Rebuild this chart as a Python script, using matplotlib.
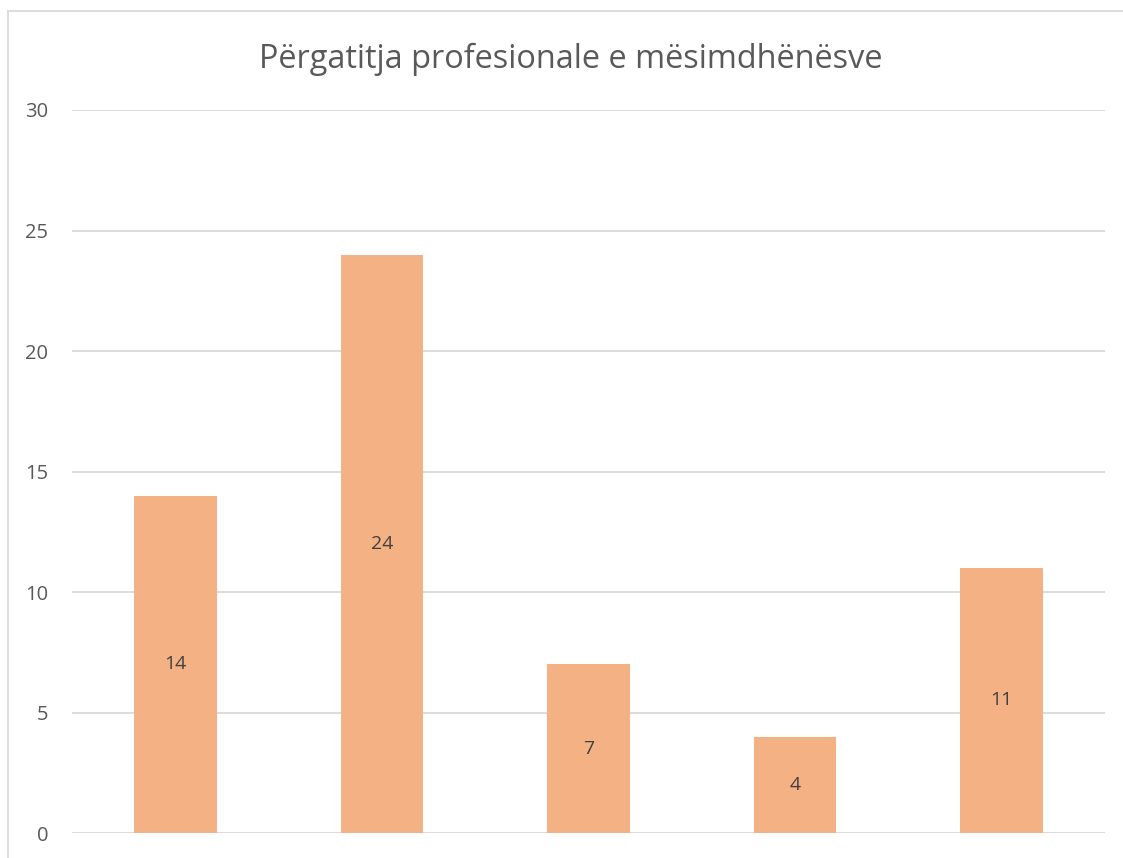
import matplotlib.pyplot as plt
from matplotlib.lines import Line2D

# data
categories = ["1", "2", "3", "4", "5"]
values = [14, 24, 7, 4, 11]
title = "Përgatitja profesionale e mësimdhënësve"

plt.rcParams['font.family'] = ['Open Sans', 'DejaVu Sans']

fig = plt.figure(figsize=(11.23, 8.58), dpi=100)
ax = fig.add_axes([0.0641, 0.0291, 0.9199, 0.8427])

x = range(len(categories))
bars = ax.bar(x, values, width=0.4, color='#F4B183', zorder=3)

ax.set_xlim(-0.5, len(categories) - 0.5)
ax.set_ylim(0, 30)
ax.set_yticks(range(0, 31, 5))
ax.set_xticks([])
ax.yaxis.grid(True, color='#D9D9D9', linewidth=1.3, zorder=0)
for s in ax.spines.values():
    s.set_visible(False)
ax.tick_params(axis='y', length=0, pad=17, labelsize=14.5, labelcolor='#595959')

# value labels in the middle of each bar
for b, v in zip(bars, values):
    ax.text(b.get_x() + b.get_width() / 2, v / 2, str(v), ha='center', va='center',
            fontsize=14, color='#404040', zorder=4)

fig.text(0.508, 0.931, title, ha='center', va='center', fontsize=23.4, color='#595959')

# chart area border (cropped at right and bottom)
bx, by = 8 / 1123, 1 - 11 / 858
fig.add_artist(Line2D([bx, bx], [-0.05, by], transform=fig.transFigure, color='#D9D9D9', lw=1.3))
fig.add_artist(Line2D([bx, 1.05], [by, by], transform=fig.transFigure, color='#D9D9D9', lw=1.3))

fig.savefig('out.png', dpi=100)
